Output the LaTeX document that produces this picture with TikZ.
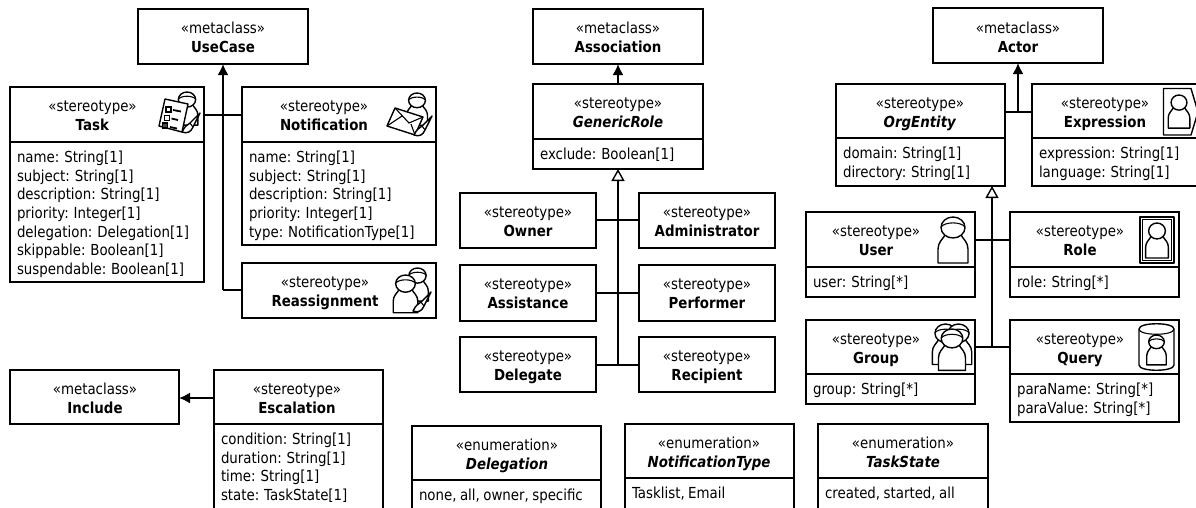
\documentclass[tikz,border=0pt]{standalone}
\usepackage{fontspec}
\setmainfont{DejaVu Sans}[FakeStretch=0.88,WordSpace=0.8]
\usetikzlibrary{arrows.meta}
\tikzset{
  umlframe/.style={draw=black,line width=1.8pt,fill=white,inner sep=0pt,outer sep=0pt},
  umltext/.style={inner sep=0pt,outer sep=0pt,anchor=base,font=\fontsize{15.2}{18}\selectfont},
  attrtext/.style={inner sep=0pt,outer sep=0pt,anchor=base west,font=\fontsize{15.2}{18}\selectfont},
  divline/.style={line width=1.8pt},
  wire/.style={line width=1.8pt},
  extarrow/.style={line width=1.8pt,-{Latex[length=11pt,width=11pt]}},
  genarrow/.style={line width=1.8pt,-{Triangle[open,fill=white,length=12pt,width=13pt,line width=1.4pt]}},
  iconline/.style={line width=1.4pt,line join=round,fill=white},
  iconthin/.style={line width=1.1pt},
  iconbar/.style={line width=1.8pt}
}
\newcommand{\umlhead}[5]{% id x1 y1 x2 y2
  \pgfmathsetmacro{\bw}{#4-#2}\pgfmathsetmacro{\bh}{#5-#3}%
  \pgfmathsetmacro{\bx}{(#2+#4)/2}\pgfmathsetmacro{\by}{(#3+#5)/2}%
  \node[umlframe,minimum width=\bw pt,minimum height=\bh pt] (#1) at (\bx,\by) {};%
}
\newcommand{\umltitle}[5]{% id textx ycenter stereotype title
  \pgfmathsetmacro{\ya}{#3-3}\pgfmathsetmacro{\yb}{#3+16}%
  \node[umltext] (#1-s) at (#2,\ya) {#4};%
  \node[umltext] (#1-t) at (#2,\yb) {#5};%
}
\newcommand{\umlattrs}[4]{% id x ydiv list
  \pgfmathsetmacro{\ax}{#2+7}%
  \draw[divline] (#1.west |- 0,#3) -- (#1.east |- 0,#3);%
  \foreach \t [count=\i] in {#4} {%
    \pgfmathsetmacro{\ay}{#3+20.7+(\i-1)*18.6}%
    \node[attrtext] (#1-a\i) at (\ax,\ay) {\t};%
  }%
}
\newcommand{\bt}[1]{\textbf{#1}}
\newcommand{\bi}[1]{\textbf{\textit{#1}}}
\newcommand{\person}[3]{%
  \begin{scope}[shift={(#1,#2)},scale=#3]
    \draw[iconline] (-15,46) -- (-15,32) .. controls (-15,25) and (-10,22) .. (-8,18) -- (8,18) .. controls (10,22) and (15,25) .. (15,32) -- (15,46) -- cycle;
    \draw[iconline] (0,10.5) ellipse (12 and 10.5);
    \draw[iconthin] (-12,10) .. controls (-8,4.5) and (8,4.5) .. (12,10);
  \end{scope}%
}
\newcommand{\plainperson}[3]{%
  \begin{scope}[shift={(#1,#2)},scale=#3]
    \draw[iconline] (-15,46) -- (-15,32) .. controls (-15,25) and (-10,22) .. (-8,18) -- (8,18) .. controls (10,22) and (15,25) .. (15,32) -- (15,46) -- cycle;
    \draw[iconline] (0,10.5) ellipse (11 and 10.5);
  \end{scope}%
}
\newcommand{\penicon}[2]{%
  \begin{scope}[shift={(#1,#2)}]
    \draw[iconline] (-11,10) .. controls (-8,4) and (-6,3) .. (-3,1) -- (7,-9) -- (0,5) .. controls (-2,10) and (-6,12) .. (-11,10) -- cycle;
    \draw[iconthin] (-3,1) -- (0,5);
  \end{scope}%
}
\begin{document}
\begin{tikzpicture}[x=1pt,y=-1pt]
\useasboundingbox (0,0) rectangle (1196,507);
\clip (0,0) rectangle (1196,507);

% ---------- left group
\umlhead{usecase}{138}{9}{308}{64}
\umlhead{task}{10}{87}{204}{282}
\umlhead{notif}{242}{87}{436}{245}
\umlhead{reassign}{242}{263}{436}{318}
\coordinate (jl) at (223,115);
\coordinate (jb) at (223,290);
\draw[wire] (task.east |- jl) -- (notif.west |- jl);
\draw[wire] (jb) -- (reassign.west |- jb);
\draw[extarrow] (jb) -- (usecase.south -| jb);
\umltitle{usecase}{223}{36.5}{«metaclass»}{\bt{UseCase}}
\umltitle{task}{92.5}{114.5}{«stereotype»}{\bt{Task}}
\umlattrs{task}{10}{142}{{name: String[1]},{subject: String[1]},{description: String[1]},{priority: Integer[1]},{delegation: Delegation[1]},{skippable: Boolean[1]},{suspendable: Boolean[1]}}
\umltitle{notif}{324}{114.5}{«stereotype»}{\bt{Notification}}
\umlattrs{notif}{242}{142}{{name: String[1]},{subject: String[1]},{description: String[1]},{priority: Integer[1]},{type: NotificationType[1]}}
\umltitle{reassign}{325}{290.5}{«stereotype»}{\bt{Reassignment}}

% task icon
\person{187}{92}{0.72}
\draw[iconline] (165,99) -- (188,104) -- (182,132) -- (159,126) -- cycle;
\foreach \px/\py in {166/107,164.5/115.5} \draw[iconthin] (\px,\py) rectangle ++(5,5);
\draw[iconthin,fill=black!70] (162.5,123) rectangle ++(5,5);
\draw[iconbar] (173,110) -- (181,111.5);
\draw[iconbar] (171.5,118.5) -- (178,120);
\draw[iconbar] (170,127) -- (177,128.5);
\penicon{193}{122}
% notification icon
\person{417}{93}{0.7}
\draw[iconline] (395,108) -- (423,117) -- (415,135) -- (387,126) -- cycle;
\draw[iconthin] (395,108) -- (409,123) -- (423,117);
\draw[iconthin] (387,126) -- (402,116);
\draw[iconthin] (415,135) -- (411,124);
\penicon{425}{125}
% reassignment icon
\person{417.5}{268}{0.72}
\person{405.5}{275}{0.82}
\penicon{424}{301}

% ---------- escalation
\umlhead{include}{10}{370}{179}{424}
\umlhead{escal}{214}{370}{383}{530}
\draw[extarrow] (escal.west |- 0,398) -- (include.east |- 0,398);
\umltitle{include}{95}{397}{«metaclass»}{\bt{Include}}
\umltitle{escal}{297}{397}{«stereotype»}{\bt{Escalation}}
\umlattrs{escal}{214}{424}{{condition: String[1]},{duration: String[1]},{time: String[1]},{state: TaskState[1]}}

% ---------- middle group
\umlhead{assoc}{533}{9}{703}{64}
\umlhead{generic}{533}{84}{703}{169}
\umlhead{owner}{460}{193}{596}{248}
\umlhead{admin}{639}{193}{775}{248}
\umlhead{assist}{460}{265}{596}{321}
\umlhead{perf}{639}{265}{775}{321}
\umlhead{deleg}{460}{337}{596}{392}
\umlhead{recip}{639}{337}{775}{392}
\draw[extarrow] (generic.north -| assoc.south) -- (assoc.south);
\coordinate (jm) at (618,365);
\draw[wire] (owner.east |- 0,220) -- (admin.west |- 0,220);
\draw[wire] (assist.east |- 0,293) -- (perf.west |- 0,293);
\draw[wire] (deleg.east |- jm) -- (recip.west |- jm);
\draw[genarrow] (jm) -- (generic.south -| jm);
\umltitle{assoc}{618}{36.5}{«metaclass»}{\bt{Association}}
\umltitle{generic}{618}{111.5}{«stereotype»}{\bi{GenericRole}}
\umlattrs{generic}{533}{139}{{exclude: Boolean[1]}}
\umltitle{owner}{528}{220.5}{«stereotype»}{\bt{Owner}}
\umltitle{admin}{707}{220.5}{«stereotype»}{\bt{Administrator}}
\umltitle{assist}{528}{292.5}{«stereotype»}{\bt{Assistance}}
\umltitle{perf}{707}{292.5}{«stereotype»}{\bt{Performer}}
\umltitle{deleg}{528}{364.5}{«stereotype»}{\bt{Delegate}}
\umltitle{recip}{707}{364.5}{«stereotype»}{\bt{Recipient}}

% ---------- enumerations
\umlhead{edeleg}{412}{426}{601}{530}
\umlhead{enotif}{625}{424}{794}{530}
\umlhead{etask}{818}{424}{988}{530}
\umltitle{edeleg}{507}{453}{«enumeration»}{\bi{Delegation}}
\umlattrs{edeleg}{412}{480}{{none, all, owner, specific}}
\umltitle{enotif}{709}{451}{«enumeration»}{\bi{NotificationType}}
\umlattrs{enotif}{625}{478}{{Tasklist, Email}}
\umltitle{etask}{903}{451}{«enumeration»}{\bi{TaskState}}
\umlattrs{etask}{818}{478}{{created, started, all}}

% ---------- right group
\umlhead{actor}{933}{8}{1103}{63}
\umlhead{org}{836}{84}{1005}{186}
\umlhead{expr}{1032}{84}{1220}{186}
\umlhead{user}{806}{212}{975}{297}
\umlhead{role}{1010}{212}{1179}{297}
\umlhead{group}{806}{320}{975}{404}
\umlhead{query}{1010}{320}{1179}{422}
\coordinate (ja) at (1018,112);
\coordinate (jr) at (992,347);
\draw[wire] (org.east |- ja) -- (expr.west |- ja);
\draw[extarrow] (ja) -- (actor.south -| ja);
\draw[wire] (user.east |- 0,240) -- (role.west |- 0,240);
\draw[wire] (group.east |- jr) -- (query.west |- jr);
\draw[genarrow] (jr) -- (org.south -| jr);
\umltitle{actor}{1018}{36}{«metaclass»}{\bt{Actor}}
\umltitle{org}{920}{111}{«stereotype»}{\bi{OrgEntity}}
\umlattrs{org}{836}{138}{{domain: String[1]},{directory: String[1]}}
\umltitle{expr}{1105}{111}{«stereotype»}{\bt{Expression}}
\umlattrs{expr}{1032}{138}{{expression: String[1]},{language: String[1]}}
\umltitle{user}{876}{239.5}{«stereotype»}{\bt{User}}
\umlattrs{user}{806}{267}{{user: String[*]}}
\umltitle{role}{1080}{239.5}{«stereotype»}{\bt{Role}}
\umlattrs{role}{1010}{267}{{role: String[*]}}
\umltitle{group}{876}{347}{«stereotype»}{\bt{Group}}
\umlattrs{group}{806}{374}{{group: String[*]}}
\umltitle{query}{1080}{347}{«stereotype»}{\bt{Query}}
\umlattrs{query}{1010}{374}{{paraName: String[*]},{paraValue: String[*]}}

% expression icon
\draw[iconline] (1163.5,88.5) -- (1191,88.5) -- (1198,112) -- (1191,135) -- (1163.5,135) -- cycle;
\plainperson{1179}{95}{0.72}
% user icon
\person{953}{217}{1}
% role icon
\draw[iconline] (1140,217) rectangle (1174,263);
\draw[iconthin] (1142.5,219.5) rectangle (1171.5,260.5);
\plainperson{1157}{223}{0.76}
% group icon
\person{945.5}{324}{0.88}
\person{958.5}{324}{0.88}
\person{952}{329}{0.9}
% query icon
\draw[iconline] (1139,329) -- (1139,365) .. controls (1139,372) and (1174,372) .. (1174,365) -- (1174,329) .. controls (1174,322) and (1139,322) .. (1139,329) -- cycle;
\draw[iconthin] (1139,329) .. controls (1139,336) and (1174,336) .. (1174,329);
\person{1156.5}{335}{0.65}
\end{tikzpicture}
\end{document}
